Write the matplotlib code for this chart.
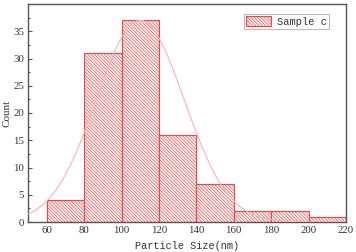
import numpy as np
import matplotlib.pyplot as plt
from matplotlib.ticker import MultipleLocator

# histogram of particle sizes
bin_edges = [60, 80, 100, 120, 140, 160, 180, 200, 220]
counts = [4, 31, 37, 16, 7, 2, 2, 1]
y_ticks = [0, 5, 10, 15, 20, 25, 30, 35]

# fitted normal curve
fit_mu = 110
fit_sigma = 23.5
fit_peak = 37

plt.rcParams['hatch.linewidth'] = 0.5
plt.rcParams['hatch.color'] = '#ff8c8c'

fig = plt.figure(figsize=(3.56, 2.52), dpi=100)
ax = fig.add_axes([28/356, 30/252, 318/356, 218/252])

widths = np.diff(bin_edges)
ax.bar(bin_edges[:-1], counts, width=widths, align='edge',
       facecolor='white', edgecolor='#ff4040', linewidth=0.8,
       hatch='\\' * 10, label='Sample c', zorder=2)

xs = np.linspace(50, 220, 300)
ys = fit_peak * np.exp(-(xs - fit_mu) ** 2 / (2 * fit_sigma ** 2))
ax.plot(xs, ys, color='#ffb0b0', linewidth=0.8, zorder=3)

ax.set_xlim(50, 220)
ax.set_ylim(0, 40)
ax.set_xticks(bin_edges)
ax.xaxis.set_minor_locator(MultipleLocator(10))
ax.set_yticks(y_ticks)
ax.yaxis.set_minor_locator(MultipleLocator(2.5))
ax.tick_params(which='both', direction='in', colors='#555555',
               labelcolor='#333333', width=0.8)
ax.tick_params(which='major', length=3, labelsize=7.8, pad=3)
ax.tick_params(which='minor', length=1.5)
for lab in ax.get_xticklabels() + ax.get_yticklabels():
    lab.set_fontfamily('Liberation Serif')
for s in ax.spines.values():
    s.set_color('#555555')
    s.set_linewidth(1.0)

ax.set_xlabel('Particle Size(nm)', fontfamily='Liberation Mono',
              fontsize=7.3, color='#333333', labelpad=4)
ax.set_ylabel('Count', fontfamily='Liberation Serif', fontsize=8,
              color='#333333')
ax.yaxis.set_label_coords(-0.052, 0.5)

leg = ax.legend(loc='upper right', bbox_to_anchor=(0.947, 0.955),
                prop={'family': 'Liberation Mono', 'size': 7.5},
                fancybox=False, framealpha=1, edgecolor='#bbbbbb',
                handlelength=2.4, handleheight=1.0, borderpad=0.25,
                handletextpad=0.5, borderaxespad=0)
leg.get_frame().set_linewidth(0.8)
for t in leg.get_texts():
    t.set_color('#333333')

fig.savefig('out.png', dpi=100)
